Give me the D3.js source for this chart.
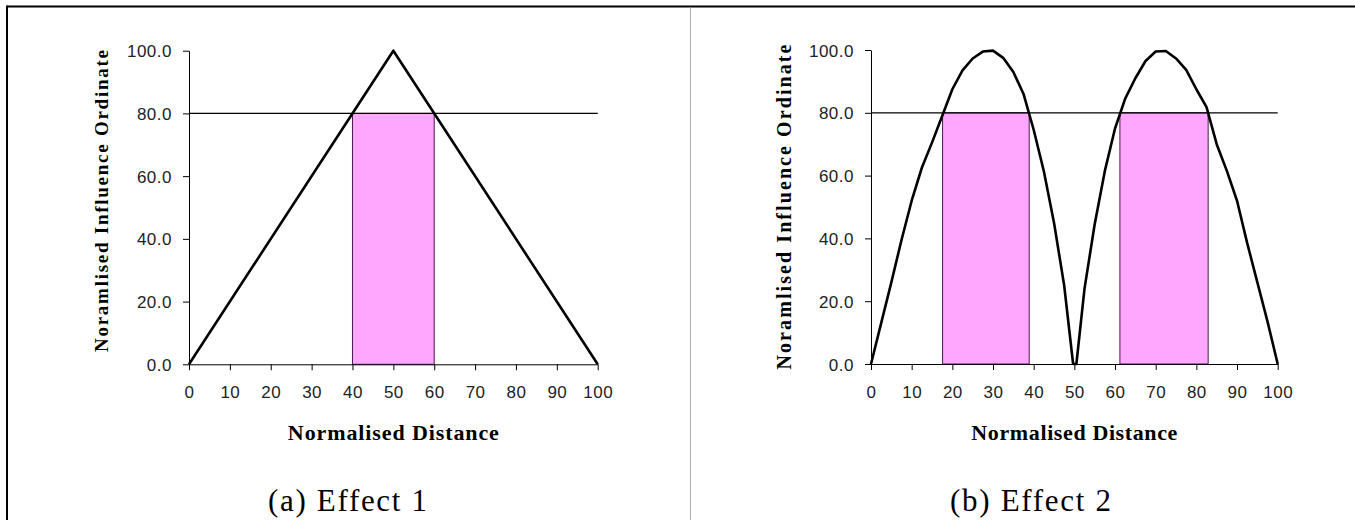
<!DOCTYPE html>
<html>
<head>
<meta charset="utf-8">
<script src="https://cdn.jsdelivr.net/npm/d3@7"></script>
<style>
  html, body { margin: 0; padding: 0; background: #fff; }
  svg { display: block; }
</style>
</head>
<body>
<svg id="chart" width="1355" height="520"></svg>
<script>
// ---- data ----
const xTicks = [0, 10, 20, 30, 40, 50, 60, 70, 80, 90, 100];
const yTicks = [0, 20, 40, 60, 80, 100];
const threshold = 80;

const effect1X = [0, 50, 100];
const effect1Y = [0, 100, 0];
const effect1Bands = [[40, 60]];

const effect2X = [0, 2.5, 5, 7.5, 10, 12.5, 15, 17.5, 20, 22.5, 25, 27.5, 30, 32.5, 35, 37.5, 40, 42.5, 45, 47.5, 49.7,
                  50.5, 52.5, 55, 57.5, 60, 62.5, 65, 67.5, 70, 72.5, 75, 77.5, 80, 82.5, 85, 87.5, 90, 92.5, 95, 97.5, 100];
const effect2Y = [0, 13, 26, 39.5, 52, 62.5, 70.5, 79, 87.5, 93.5, 97.3, 99.5, 99.8, 97.5, 93, 86, 74.6, 61.4, 45, 25, 0,
                  0, 24, 44.5, 61.5, 75, 84.5, 91, 96.5, 99.5, 99.7, 97.3, 93.7, 87.5, 81.8, 70, 61.5, 52, 38.5, 26, 13.5, 0];
const effect2Bands = [[17.6, 38.9], [61.2, 82.9]];

const captions = ["(a) Effect 1", "(b) Effect 2"];
const xTitle = "Normalised Distance";
const yTitle = "Noramlised Influence Ordinate";

// ---- layout ----
const panels = [
  { xs: effect1X, ys: effect1Y, bands: effect1Bands, caption: captions[0],
    x0: 189, x1: 597.7, y0: 364.3, y1: 50.7,
    yTitleX: 108, yTitleY: 201, yTitleSize: 19, yTitleLen: 302,
    xTitleLen: 211, capX: 268, capLen: 159 },
  { xs: effect2X, ys: effect2Y, bands: effect2Bands, caption: captions[1],
    x0: 871, x1: 1277.7, y0: 364, y1: 50,
    yTitleX: 791, yTitleY: 207, yTitleSize: 20, yTitleLen: 325,
    xTitleLen: 206, capX: 950, capLen: 161 }
];

const svg = d3.select("#chart");

// frame
svg.append("line").attr("x1", 7).attr("x2", 1355).attr("y1", 6.5).attr("y2", 6.5)
  .attr("stroke", "#000").attr("stroke-width", 2);
svg.append("line").attr("x1", 7).attr("x2", 7).attr("y1", 5.5).attr("y2", 520)
  .attr("stroke", "#000").attr("stroke-width", 2);
svg.append("line").attr("x1", 690.5).attr("x2", 690.5).attr("y1", 7.5).attr("y2", 520)
  .attr("stroke", "#b0b0b0").attr("stroke-width", 1);

panels.forEach(p => {
  const x = d3.scaleLinear().domain([0, 100]).range([p.x0, p.x1]);
  const y = d3.scaleLinear().domain([0, 100]).range([p.y0, p.y1]);
  const g = svg.append("g");

  // bands
  p.bands.forEach(b => {
    g.append("rect")
      .attr("x", x(b[0])).attr("y", y(threshold))
      .attr("width", x(b[1]) - x(b[0])).attr("height", y(0) - y(threshold))
      .attr("fill", "#ffa6ff").attr("stroke", "#4a1a4a").attr("stroke-width", 1);
  });

  // threshold line
  g.append("line")
    .attr("x1", x(0)).attr("x2", x(100))
    .attr("y1", y(threshold)).attr("y2", y(threshold))
    .attr("stroke", "#000").attr("stroke-width", 1.2);

  // axes
  const yAxis = d3.axisLeft(y).tickValues(yTicks).tickFormat(d3.format(".1f"))
    .tickSize(6).tickSizeOuter(0).tickPadding(11);
  const xAxis = d3.axisBottom(x).tickValues(xTicks).tickFormat(d3.format("d"))
    .tickSize(6).tickSizeOuter(0).tickPadding(16);

  const ga = g.append("g").attr("transform", `translate(${p.x0},0)`).call(yAxis);
  const gb = g.append("g").attr("transform", `translate(0,${p.y0})`).call(xAxis);
  [ga, gb].forEach(a => {
    a.selectAll("path, line").attr("stroke", "#000").attr("stroke-width", 1);
    a.selectAll("text").attr("fill", "#222")
      .style("font-family", "'Liberation Sans', Arial, sans-serif")
      .style("font-size", "17px").style("letter-spacing", "0.5px");
  });
  ga.selectAll("text").attr("dy", "0.36em");

  // curve
  const pts = p.xs.map((d, i) => [d, p.ys[i]]);
  g.append("path").datum(pts)
    .attr("d", d3.line().x(d => x(d[0])).y(d => y(d[1])))
    .attr("fill", "none").attr("stroke", "#000").attr("stroke-width", 2.6)
    .attr("stroke-linejoin", "round");

  // titles
  g.append("text")
    .attr("transform", `translate(${p.yTitleX},${p.yTitleY}) rotate(-90)`)
    .attr("text-anchor", "middle")
    .attr("textLength", p.yTitleLen).attr("lengthAdjust", "spacing")
    .style("font-family", "'Liberation Serif', 'Times New Roman', serif")
    .style("font-weight", "bold").style("font-size", p.yTitleSize + "px")
    .attr("fill", "#000").text(yTitle);

  g.append("text")
    .attr("x", (p.x0 + p.x1) / 2).attr("y", 440)
    .attr("text-anchor", "middle")
    .attr("textLength", p.xTitleLen).attr("lengthAdjust", "spacing")
    .style("font-family", "'Liberation Serif', 'Times New Roman', serif")
    .style("font-weight", "bold").style("font-size", "22px")
    .attr("fill", "#000").text(xTitle);

  g.append("text")
    .attr("x", p.capX).attr("y", 511)
    .attr("textLength", p.capLen).attr("lengthAdjust", "spacing")
    .style("font-family", "'Liberation Serif', 'Times New Roman', serif")
    .style("font-size", "31px")
    .attr("fill", "#000").text(p.caption);
});
</script>
</body>
</html>
